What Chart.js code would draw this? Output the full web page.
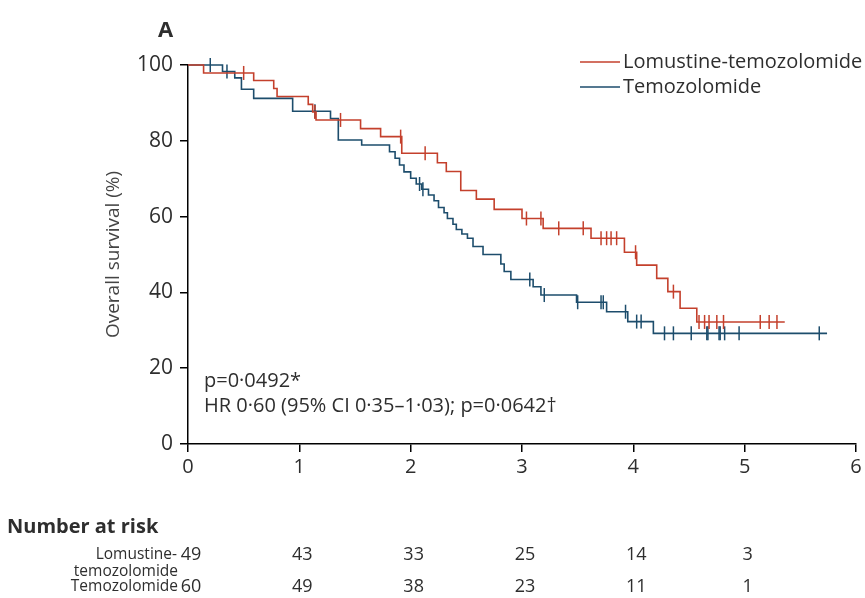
<!DOCTYPE html>
<html>
<head>
<meta charset="utf-8">
<script src="https://cdn.jsdelivr.net/npm/chart.js@4/dist/chart.umd.min.js"></script>
<style>
  html, body { margin: 0; padding: 0; background: #fff; }
  #wrap { width: 865px; height: 598px; }
</style>
</head>
<body>
<div id="wrap"><canvas id="km" width="865" height="598"></canvas></div>
<script>
// Kaplan-Meier curves: time (years) where survival drops, level (%) after the drop
var lomTimes = [0, 0.14, 0.59, 0.77, 0.80, 1.08, 1.12, 1.15, 1.55, 1.73, 1.92, 2.24, 2.32, 2.45, 2.59, 2.75, 3.00, 3.19, 3.62, 3.92, 4.03, 4.21, 4.31, 4.42, 4.57];
var lomSurv  = [100, 97.9, 95.9, 93.8, 91.7, 89.6, 87.6, 85.5, 83.2, 81.1, 76.7, 74.2, 71.9, 66.9, 64.6, 61.9, 59.5, 56.9, 54.3, 50.6, 47.2, 43.7, 40.2, 35.8, 32.2];
var lomEnd = 5.36;
var lomCensor = [0.50, 1.14, 1.37, 1.91, 2.13, 3.04, 3.17, 3.33, 3.55, 3.71, 3.76, 3.80, 3.85, 4.02, 4.36, 4.59, 4.64, 4.68, 4.75, 4.81, 5.14, 5.22, 5.29];

var tmzTimes = [0, 0.31, 0.42, 0.48, 0.59, 0.94, 1.28, 1.35, 1.56, 1.81, 1.86, 1.90, 1.94, 2.00, 2.05, 2.10, 2.16, 2.21, 2.25, 2.30, 2.33, 2.38, 2.41, 2.46, 2.51, 2.56, 2.65, 2.81, 2.84, 2.90, 3.10, 3.17, 3.49, 3.76, 3.95, 4.18];
var tmzSurv  = [100, 98.3, 96.6, 93.6, 91.2, 87.8, 85.9, 80.2, 78.9, 77.1, 75.4, 73.6, 71.8, 70.1, 68.6, 67.2, 65.7, 64.2, 62.4, 61.0, 59.5, 58.0, 56.6, 55.4, 54.3, 52.1, 50.0, 47.5, 45.5, 43.4, 41.5, 39.3, 37.4, 34.9, 32.3, 29.2];
var tmzEnd = 5.74;
var tmzCensor = [0.20, 0.35, 1.14, 2.08, 2.11, 3.07, 3.20, 3.50, 3.71, 3.73, 3.93, 4.03, 4.07, 4.28, 4.36, 4.52, 4.66, 4.67, 4.77, 4.78, 4.82, 4.95, 5.67];

// number at risk table
var riskTimes = [0, 1, 2, 3, 4, 5];
var riskLom = [49, 43, 33, 25, 14, 3];
var riskTmz = [60, 49, 38, 23, 11, 1];

var redCol = '#c4402c';
var blueCol = '#1d4d6c';
var txtCol = '#2e2e2e';
var fam = '"Open Sans", "DejaVu Sans", sans-serif';

function stepPoints(times, surv, end) {
  var pts = [];
  for (var i = 0; i < times.length; i++) pts.push({ x: times[i], y: surv[i] });
  pts.push({ x: end, y: surv[surv.length - 1] });
  return pts;
}

// survival level of a curve at time t (used to sit censor marks on the curve)
function levelAt(times, surv, t) {
  var s = surv[0];
  for (var i = 0; i < times.length; i++) { if (times[i] <= t) s = surv[i]; }
  return s;
}

function censorPoints(times, surv, cens) {
  return cens.map(function (t) { return { x: t, y: levelAt(times, surv, t) }; });
}

var extras = {
  id: 'extras',
  afterDraw: function (chart) {
    var ctx = chart.ctx;
    var xs = chart.scales.x;
    ctx.save();
    ctx.fillStyle = txtCol;
    ctx.textBaseline = 'middle';

    // panel letter
    ctx.font = 'bold 22px ' + fam;
    ctx.textAlign = 'left';
    ctx.fillText('A', 158, 31);

    // legend
    ctx.font = '20px ' + fam;
    ctx.lineWidth = 1.5;
    ctx.strokeStyle = redCol;
    ctx.beginPath(); ctx.moveTo(580, 62); ctx.lineTo(620, 62); ctx.stroke();
    ctx.strokeStyle = blueCol;
    ctx.beginPath(); ctx.moveTo(580, 87); ctx.lineTo(620, 87); ctx.stroke();
    ctx.fillText('Lomustine-temozolomide', 623, 62);
    ctx.fillText('Temozolomide', 623, 87);

    // stats
    ctx.fillText('p=0\u00b70492*', 204, 381);
    ctx.fillText('HR 0\u00b760 (95% CI 0\u00b735\u20131\u00b703); p=0\u00b70642\u2020', 204, 406);

    // number at risk
    ctx.font = 'bold 20px ' + fam;
    ctx.fillText('Number at risk', 7, 527);
    ctx.font = '15.5px ' + fam;
    ctx.textAlign = 'right';
    ctx.fillText('Lomustine-', 177, 555);
    ctx.fillText('temozolomide', 178, 572);
    ctx.fillText('Temozolomide', 178, 587);
    ctx.font = '18px ' + fam;
    ctx.textAlign = 'center';
    for (var i = 0; i < riskTimes.length; i++) {
      var px = xs.getPixelForValue(riskTimes[i]);
      ctx.fillText(String(riskLom[i]), px + 3, 555);
      ctx.fillText(String(riskTmz[i]), px + 3, 587);
    }
    ctx.restore();
  }
};

new Chart(document.getElementById('km'), {
  type: 'line',
  data: {
    datasets: [
      { label: 'Lomustine-temozolomide', data: stepPoints(lomTimes, lomSurv, lomEnd),
        borderColor: redCol, borderWidth: 1.6, stepped: 'before', pointRadius: 0, fill: false, clip: false },
      { label: 'Temozolomide', data: stepPoints(tmzTimes, tmzSurv, tmzEnd),
        borderColor: blueCol, borderWidth: 1.6, stepped: 'before', pointRadius: 0, fill: false, clip: false },
      { label: 'lom censored', data: censorPoints(lomTimes, lomSurv, lomCensor), showLine: false,
        pointStyle: 'line', rotation: 90, pointRadius: 7, pointBorderWidth: 1.5, borderColor: redCol, clip: false },
      { label: 'tmz censored', data: censorPoints(tmzTimes, tmzSurv, tmzCensor), showLine: false,
        pointStyle: 'line', rotation: 90, pointRadius: 7, pointBorderWidth: 1.5, borderColor: blueCol, clip: false }
    ]
  },
  options: {
    responsive: false,
    animation: false,
    layout: { padding: { left: 99, top: 65, right: 9, bottom: 114 } },
    plugins: { legend: { display: false }, tooltip: { enabled: false } },
    scales: {
      x: {
        type: 'linear', min: 0, max: 6,
        ticks: { stepSize: 1, color: txtCol, font: { family: fam, size: 20 }, padding: 3, maxRotation: 0 },
        grid: { drawOnChartArea: false, color: '#000', tickLength: 8, lineWidth: 1.5 },
        border: { color: '#000', width: 1.5 },
        afterFit: function (s) { s.height = 40; }
      },
      y: {
        min: 0, max: 100,
        ticks: { stepSize: 20, color: txtCol, font: { family: fam, size: 21 }, padding: 7 },
        grid: { drawOnChartArea: false, color: '#000', tickLength: 8, lineWidth: 1.5 },
        border: { color: '#000', width: 1.5 },
        title: { display: true, text: 'Overall survival (%)', color: '#444', font: { family: fam, size: 19 }, padding: { top: 3, bottom: 0 } },
        afterFit: function (s) { s.width = 89; }
      }
    }
  },
  plugins: [extras]
});
</script>
</body>
</html>
